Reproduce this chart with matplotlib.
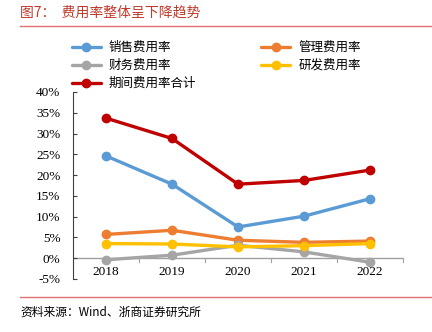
import matplotlib
matplotlib.use("Agg")
import matplotlib.pyplot as plt
from matplotlib.lines import Line2D
from matplotlib.ticker import FuncFormatter

plt.rcParams['font.family'] = ['Noto Sans CJK SC', 'DejaVu Sans']

# --- data ---
years = ['2018', '2019', '2020', '2021', '2022']
sales = [24.6, 17.8, 7.5, 10.1, 14.3]
admin = [5.7, 6.7, 4.3, 3.8, 4.1]
finance = [-0.4, 0.7, 3.1, 1.5, -1.0]
rnd = [3.5, 3.4, 2.7, 3.0, 3.5]
total = [33.7, 28.8, 17.8, 18.7, 21.2]

series = [
    ('销售费用率', sales, '#5B9BD5'),
    ('管理费用率', admin, '#ED7D31'),
    ('财务费用率', finance, '#A5A5A5'),
    ('研发费用率', rnd, '#FFC000'),
    ('期间费用率合计', total, '#C00000'),
]

fig = plt.figure(figsize=(4.32, 3.32), dpi=100)
ax = fig.add_axes([0.169, 0.160, 0.764, 0.563])

x = list(range(len(years)))
handles = []
for name, vals, col in series:
    h, = ax.plot(x, vals, color=col, lw=2.4, marker='o', ms=6, label=name, solid_capstyle='round')
    handles.append(h)

ax.set_xlim(-0.5, 4.5)
ax.set_ylim(-5, 40)
ax.set_yticks(range(-5, 41, 5))
ax.yaxis.set_major_formatter(FuncFormatter(lambda v, p: f'{v:.0f}%'))
for lab in ax.get_yticklabels():
    lab.set_family('Liberation Serif')
ax.tick_params(axis='y', direction='in', length=3, color='#404040', labelsize=9.5, pad=9)

# x axis drawn at zero
ax.set_xticks([])
for s in ['top', 'right', 'bottom']:
    ax.spines[s].set_visible(False)
ax.spines['left'].set_color('#404040')
ax.spines['left'].set_linewidth(0.8)
ax.axhline(0, color='#A0A0A0', lw=1.0, zorder=1)
for b in [0.5, 1.5, 2.5, 3.5, 4.5]:
    ax.plot([b, b], [0, -0.9], color='#A0A0A0', lw=0.8, clip_on=False, zorder=1)
for i, yr in enumerate(years):
    ax.text(i, -1.8, yr, ha='center', va='top', fontsize=9.5, family='Liberation Serif')

# legend: two columns, first column holds three entries
col1 = [handles[0], handles[2], handles[4]]
col2 = [handles[1], handles[3]]
fig.legend(handles=col1 + col2, loc='upper left', bbox_to_anchor=(72 / 432, 1 - 41 / 332),
           ncol=2, frameon=False, fontsize=9, handlelength=2.3, borderpad=0,
           borderaxespad=0, columnspacing=5.2, labelspacing=0.4, handletextpad=0.65)

# title and source
fig.text(20 / 432, 1 - 13 / 332, '图7：  费用率整体呈下降趋势', color='#C0392B',
         fontsize=10, ha='left', va='center')
fig.add_artist(Line2D([20 / 432, 1], [1 - 26 / 332] * 2, color='#E07070', lw=1.0))
fig.add_artist(Line2D([20 / 432, 1], [1 - 297 / 332] * 2, color='#E07070', lw=1.0))
fig.text(20 / 432, 1 - 312 / 332, '资料来源：Wind、浙商证券研究所', color='#000000',
         fontsize=8.5, ha='left', va='center')

fig.savefig('out.png', dpi=100)
